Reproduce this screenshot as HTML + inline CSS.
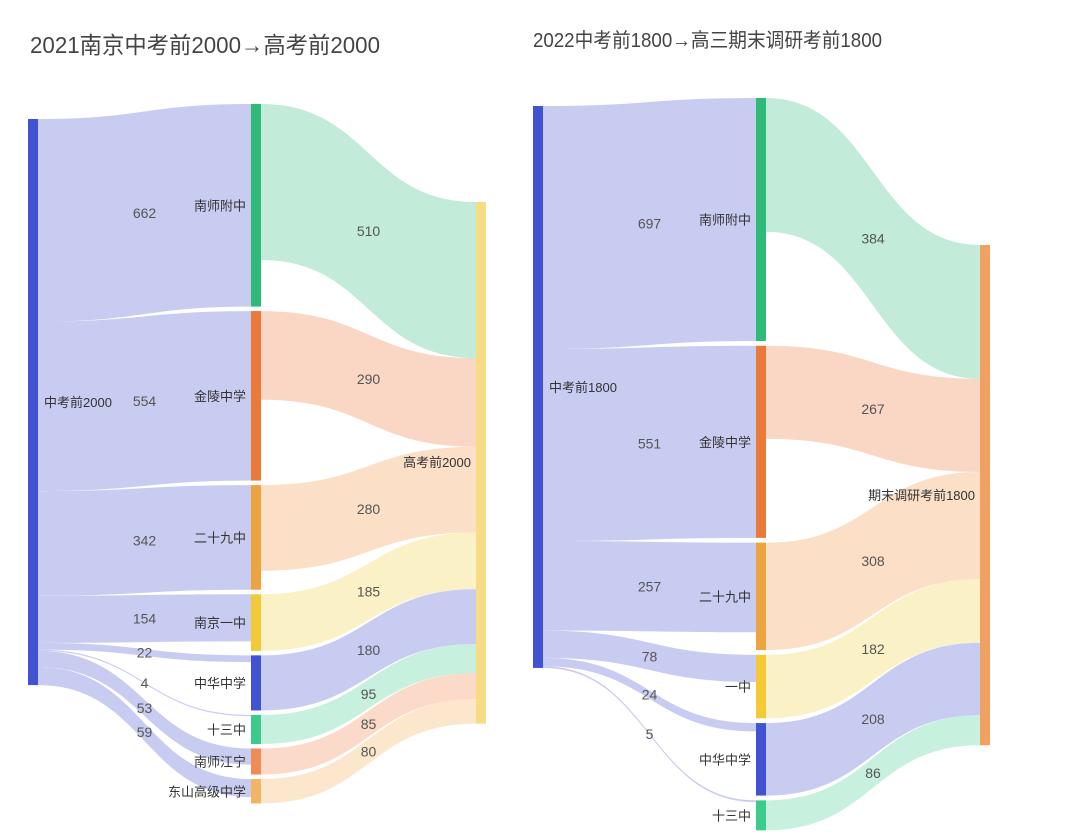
<!DOCTYPE html>
<html><head><meta charset="utf-8">
<style>
body{margin:0;background:#fff;}
svg text{font-family:"Liberation Sans","Noto Sans CJK SC",sans-serif;}
.t{font-family:"Liberation Sans Narrow","Liberation Sans","Noto Sans CJK SC",sans-serif;fill:#444;}
</style></head>
<body>
<svg id="chart" width="1080" height="835" viewBox="0 0 1080 835" xmlns="http://www.w3.org/2000/svg">
<text class="t" x="30" y="53" font-size="23" textLength="350" lengthAdjust="spacingAndGlyphs">2021南京中考前2000→高考前2000</text>
<text class="t" x="533" y="47" font-size="20" textLength="349" lengthAdjust="spacingAndGlyphs">2022中考前1800→高三期末调研考前1800</text>
</svg>
<script>
// Left chart data
const leftSourceName = "中考前2000";
const leftTargetName = "高考前2000";
const leftSchools = ["南师附中","金陵中学","二十九中","南京一中","中华中学","十三中","南师江宁","东山高级中学"];
const leftInValues = [662,554,342,154,22,4,53,59];
const leftOutValues = [510,290,280,185,180,95,85,80];
// Right chart data
const rightSourceName = "中考前1800";
const rightTargetName = "期末调研考前1800";
const rightSchools = ["南师附中","金陵中学","二十九中","一中","中华中学","十三中"];
const rightInValues = [697,551,257,78,24,5];
const rightOutValues = [384,267,308,182,208,86];

const NS="http://www.w3.org/2000/svg";
const svg=document.getElementById('chart');
function mk(tag,attrs,parent){const e=document.createElementNS(NS,tag);for(const k in attrs)e.setAttribute(k,attrs[k]);(parent||svg).appendChild(e);return e;}
function band(x0,y0a,y0b,x1,y1a,y1b){const m=(x0+x1)/2;
 return `M${x0},${y0a}C${m},${y0a} ${m},${y1a} ${x1},${y1a}L${x1},${y1b}C${m},${y1b} ${m},${y0b} ${x0},${y0b}Z`;}

function sankey(cfg){
 const {schools,inV,outV,k,sx,sy,mx,my,tx,ty,gap,nodeCols,linkCols,srcCol,tgtCol,srcName,tgtName,srcLabelY,tgtLabelX,tgtLabelY,prefix}=cfg;
 const g=mk('g',{});
 
 
 const W=10;
 let y=my;const nodes=[];
 schools.forEach((s,i)=>{const h=Math.max(inV[i],outV[i])*k;nodes.push({y:y,h:h});y+=h+gap;});
 let sOff=sy;
 schools.forEach((s,i)=>{const h=inV[i]*k;const n=nodes[i];
  const p=mk('path',{d:band(sx+W,sOff,sOff+h,mx,n.y,n.y+h),fill:'#c3c7f0','fill-opacity':0.9},g);
  
  
  const lt=mk('text',{x:(sx+W+mx)/2,y:(sOff+h/2+n.y+h/2)/2+5,'font-size':14,fill:'#555','text-anchor':'middle'},g);
  lt.textContent=inV[i];
  
  
  sOff+=h;});
 let tOff=ty;
 schools.forEach((s,i)=>{const h=outV[i]*k;const n=nodes[i];
  const p=mk('path',{d:band(mx+W,n.y,n.y+h,tx,tOff,tOff+h),fill:linkCols[i],'fill-opacity':0.9},g);
  
  
  const lt=mk('text',{x:(mx+W+tx)/2,y:(n.y+h/2+tOff+h/2)/2+5,'font-size':14,fill:'#555','text-anchor':'middle'},g);
  lt.textContent=outV[i];
  
  
  tOff+=h;});
 const sTot=inV.reduce((a,b)=>a+b,0)*k;
 const sn=mk('rect',{x:sx,y:sy,width:W,height:sTot,fill:srcCol},g);
 
 
 const sl=mk('text',{x:sx+W+6,y:srcLabelY+5,'font-size':13,fill:'#333'},g);
 sl.textContent=srcName;
 
 
 nodes.forEach((n,i)=>{
  const r=mk('rect',{x:mx,y:n.y,width:W,height:n.h,fill:nodeCols[i]},g);
  
  
  const t=mk('text',{x:mx-5,y:n.y+n.h/2+5,'font-size':13,fill:'#333','text-anchor':'end'},g);
  t.textContent=schools[i];
  
  
 });
 const tTot=outV.reduce((a,b)=>a+b,0)*k;
 const tn=mk('rect',{x:tx,y:ty,width:W,height:tTot,fill:tgtCol},g);
 
 
 const tl=mk('text',{x:tgtLabelX,y:tgtLabelY+5,'font-size':13,fill:'#333','text-anchor':'end'},g);
 tl.textContent=tgtName;
 
 
}

sankey({schools:leftSchools,inV:leftInValues,outV:leftOutValues,k:0.306,sx:28,sy:119,mx:251,my:104,tx:476,ty:202,gap:4.5,
 nodeCols:['#2fba78','#e97a3a','#eba440','#f3ca35','#4152d2','#3dcb8c','#ef8c55','#f3b466'],
 linkCols:['#bde9d5','#f9d2bf','#fbdcc0','#fbefc0','#c3c7f0','#c2eedb','#fbd6c4','#fde4c6'],
 srcCol:'#4152d2',tgtCol:'#f8dc84',srcName:leftSourceName,tgtName:leftTargetName,srcLabelY:402,tgtLabelX:471,tgtLabelY:462,prefix:'left'});
sankey({schools:rightSchools,inV:rightInValues,outV:rightOutValues,k:0.3486,sx:533,sy:106,mx:756,my:98,tx:980,ty:245,gap:4.8,
 nodeCols:['#2fba78','#e97a3a','#eba440','#f3ca35','#4152d2','#3dcb8c'],
 linkCols:['#bde9d5','#f9d2bf','#fbdcc0','#fbefc0','#c3c7f0','#c2eedb'],
 srcCol:'#4152d2',tgtCol:'#f0a060',srcName:rightSourceName,tgtName:rightTargetName,srcLabelY:387,tgtLabelX:975,tgtLabelY:495,prefix:'right'});
</script>
</body></html>
